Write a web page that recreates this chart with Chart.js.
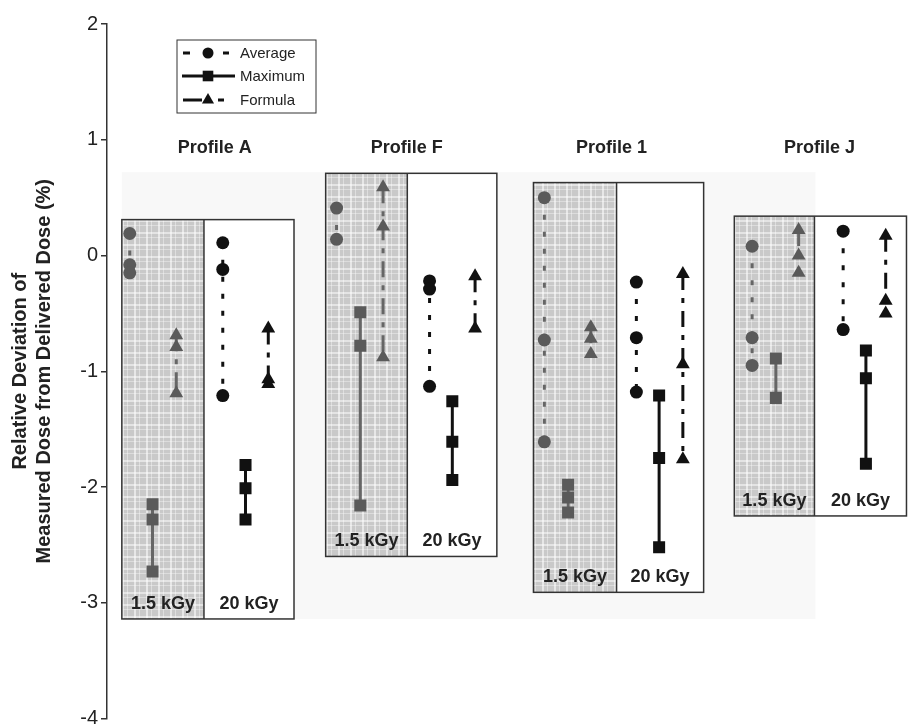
<!DOCTYPE html>
<html>
<head>
<meta charset="utf-8">
<script src="https://cdn.jsdelivr.net/npm/chart.js@4/dist/chart.umd.min.js"></script>
<style>
  html, body { margin: 0; padding: 0; background: #fff; }
  #chart { display: block; }
</style>
</head>
<body>
<canvas id="chart" width="913" height="727"></canvas>
<script>

// ---- data ----
const profiles = ['Profile A', 'Profile F', 'Profile 1', 'Profile J'];
const doses = ['1.5 kGy', '20 kGy'];
const seriesNames = ['Average', 'Maximum', 'Formula'];

// 1.5 kGy
const avg15 = [[0.19, -0.08, -0.15], [0.41, 0.14], [0.50, -0.73, -1.61], [0.08, -0.71, -0.95]];
const max15 = [[-2.15, -2.28, -2.73], [-0.49, -0.78, -2.16], [-1.98, -2.09, -2.22], [-0.89, -1.23]];
const for15 = [[-0.69, -0.79, -1.19], [0.59, 0.25, -0.88], [-0.62, -0.72, -0.85], [0.22, 0.00, -0.15]];
// 20 kGy
const avg20 = [[0.11, -0.12, -1.21], [-0.22, -0.29, -1.13], [-0.23, -0.71, -1.18], [0.21, -0.64]];
const max20 = [[-1.81, -2.01, -2.28], [-1.26, -1.61, -1.94], [-1.21, -1.75, -2.52], [-0.82, -1.06, -1.80]];
const for20 = [[-0.63, -1.07, -1.11], [-0.18, -0.63], [-0.16, -0.94, -1.76], [0.17, -0.39, -0.50]];

const yTicks = [2, 1, 0, -1, -2, -3, -4];

// ---- layout (pixels on the hidden x axis, y in axis units) ----
const panelX = [[122, 205, 296], [328, 410.5, 501], [538, 622, 710], [741, 822, 915]];
const panelTop = [0.31, 0.71, 0.63, 0.34];
const panelBottom = [-3.14, -2.60, -2.91, -2.25];
// avg15, max15, for15, avg20, max20, for20
const markX = [
  [130, 153, 177, 224, 247, 270],
  [339, 363, 386, 433, 456, 479],
  [549, 573, 596, 642, 665, 689],
  [759, 783, 806, 851, 874, 894]
];
const titleX = [216, 410, 617, 827];

const FONT = '"Liberation Sans", Arial, sans-serif';
const GRAY = '#5a5a5a';
const BLACK = '#111';

const styles = [
  { pointStyle: 'circle', radius: 6.5, dash: [5, 12] },
  { pointStyle: 'rect', radius: 8.5, dash: [] },
  { pointStyle: 'triangle', radius: 8, dash: [16, 8, 5, 8] }
];

// ---- build datasets ----
const groups = [[avg15, max15, for15], [avg20, max20, for20]];
let datasets = [];
profiles.forEach((p, pi) => {
  groups.forEach((g, di) => {
    g.forEach((values, si) => {
      const col = di == 0 ? GRAY : BLACK;
      const st = styles[si];
      datasets.push({
        label: p + ' ' + doses[di] + ' ' + seriesNames[si],
        data: values[pi].map(v => ({ x: markX[pi][di * 3 + si], y: v })),
        showLine: true,
        borderColor: di == 0 ? '#666' : BLACK,
        borderWidth: 3,
        borderDash: st.dash,
        backgroundColor: col,
        pointStyle: st.pointStyle,
        pointRadius: st.radius,
        pointBorderWidth: 0,
        pointBackgroundColor: col
      });
    });
  });
});

// plaid texture for the 1.5 kGy panels
function makePattern(ctx) {
  const c = document.createElement('canvas');
  c.width = 12; c.height = 12;
  const g = c.getContext('2d');
  g.fillStyle = '#c9c9c9';
  g.fillRect(0, 0, 12, 12);
  g.fillStyle = 'rgba(255,255,255,0.55)';
  g.fillRect(2, 0, 2, 12);
  g.fillStyle = 'rgba(255,255,255,0.4)';
  g.fillRect(7, 0, 1, 12);
  g.fillStyle = 'rgba(255,255,255,0.5)';
  g.fillRect(0, 4, 12, 2);
  g.fillStyle = 'rgba(255,255,255,0.35)';
  g.fillRect(0, 9, 12, 1);
  return ctx.createPattern(c, 'repeat');
}

const panelsPlugin = {
  id: 'panels',
  beforeDatasetsDraw(chart) {
    const ctx = chart.ctx;
    const xs = chart.scales.x, ys = chart.scales.y;
    ctx.save();
    // faint backdrop
    ctx.fillStyle = '#f8f8f8';
    ctx.fillRect(xs.getPixelForValue(122), ys.getPixelForValue(0.72),
      xs.getPixelForValue(823) - xs.getPixelForValue(122),
      ys.getPixelForValue(-3.14) - ys.getPixelForValue(0.72));

    const pat = makePattern(ctx);
    profiles.forEach((p, i) => {
      const x0 = xs.getPixelForValue(panelX[i][0]);
      const x1 = xs.getPixelForValue(panelX[i][1]);
      const x2 = xs.getPixelForValue(panelX[i][2]);
      const yt = ys.getPixelForValue(panelTop[i]);
      const yb = ys.getPixelForValue(panelBottom[i]);
      ctx.fillStyle = pat;
      ctx.fillRect(x0, yt, x1 - x0, yb - yt);
      ctx.fillStyle = '#fff';
      ctx.fillRect(x1, yt, x2 - x1, yb - yt);
      ctx.strokeStyle = '#333';
      ctx.lineWidth = 1.5;
      ctx.strokeRect(x0, yt, x2 - x0, yb - yt);
      ctx.beginPath();
      ctx.moveTo(x1, yt);
      ctx.lineTo(x1, yb);
      ctx.stroke();

      ctx.fillStyle = '#222';
      ctx.font = 'bold 18px ' + FONT;
      ctx.textAlign = 'center';
      ctx.textBaseline = 'middle';
      ctx.fillText(doses[0], (x0 + x1) / 2, yb - 15);
      ctx.fillText(doses[1], (x1 + Math.min(x2, 913)) / 2, yb - 15);

      ctx.fillText(p, xs.getPixelForValue(titleX[i]), ys.getPixelForValue(0.925));
    });
    ctx.restore();
  },
  afterDatasetsDraw(chart) {
    // legend box
    const ctx = chart.ctx;
    ctx.save();
    ctx.fillStyle = '#fff';
    ctx.fillRect(177, 40, 139, 73);
    ctx.strokeStyle = '#333';
    ctx.lineWidth = 1;
    ctx.strokeRect(177, 40, 139, 73);
    const rows = [53, 76, 100];
    const mx = 208;
    rows.forEach((y, i) => {
      const st = styles[i];
      ctx.strokeStyle = BLACK;
      ctx.fillStyle = BLACK;
      ctx.lineWidth = 3;
      ctx.beginPath();
      if (i == 0) {
        ctx.moveTo(183, y); ctx.lineTo(190, y);
        ctx.moveTo(223, y); ctx.lineTo(229, y);
      } else if (i == 1) {
        ctx.moveTo(182, y); ctx.lineTo(235, y);
      } else {
        ctx.moveTo(183, y); ctx.lineTo(202, y);
        ctx.moveTo(218, y); ctx.lineTo(224, y);
      }
      ctx.stroke();
      Chart.helpers.drawPoint(ctx, { pointStyle: st.pointStyle, radius: st.radius - 1, borderWidth: 0, rotation: 0 }, mx, y);
      ctx.font = '15px ' + FONT;
      ctx.fillStyle = '#222';
      ctx.textAlign = 'left';
      ctx.textBaseline = 'middle';
      ctx.fillText(seriesNames[i], 240, y + 1);
    });
    ctx.restore();
  }
};

new Chart(document.getElementById('chart'), {
  type: 'scatter',
  data: { datasets: datasets },
  options: {
    responsive: false,
    animation: false,
    devicePixelRatio: 1,
    layout: { padding: { top: 24, bottom: 6, left: 0, right: 0 } },
    plugins: {
      legend: { display: false },
      tooltip: { enabled: false }
    },
    scales: {
      x: { type: 'linear', min: 107, max: 913, display: false },
      y: {
        type: 'linear',
        min: -4,
        max: 2,
        afterBuildTicks(scale) {
          scale.ticks = yTicks.map(v => ({ value: v }));
        },
        afterFit(scale) {
          scale.width = 107;
          scale.paddingTop = 0;
          scale.paddingBottom = 0;
        },
        ticks: {
          color: '#222',
          padding: 3,
          font: { family: FONT, size: 20 }
        },
        grid: {
          display: true,
          drawOnChartArea: false,
          drawTicks: true,
          tickLength: 6,
          color: '#333',
          lineWidth: 1.5
        },
        border: { display: true, color: '#333', width: 1.5 },
        title: {
          display: true,
          text: ['Relative Deviation of', 'Measured Dose from Delivered Dose (%)'],
          color: '#222',
          font: { family: FONT, size: 20, weight: 'bold' },
          padding: { top: 8, bottom: 0 }
        }
      }
    }
  },
  plugins: [panelsPlugin]
});
</script>
</body>
</html>
